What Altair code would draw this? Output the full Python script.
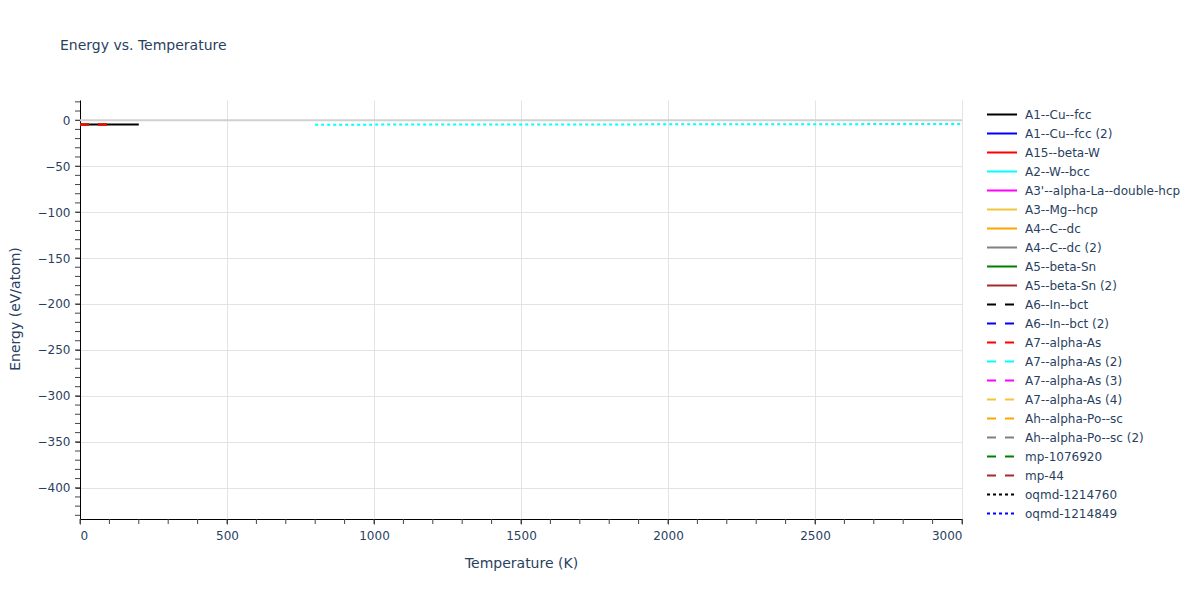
import altair as alt
import pandas as pd

# ---- data -----------------------------------------------------------------
names = [
    "A1--Cu--fcc", "A1--Cu--fcc (2)", "A15--beta-W", "A2--W--bcc",
    "A3'--alpha-La--double-hcp", "A3--Mg--hcp", "A4--C--dc", "A4--C--dc (2)",
    "A5--beta-Sn", "A5--beta-Sn (2)", "A6--In--bct", "A6--In--bct (2)",
    "A7--alpha-As", "A7--alpha-As (2)", "A7--alpha-As (3)", "A7--alpha-As (4)",
    "Ah--alpha-Po--sc", "Ah--alpha-Po--sc (2)", "mp-1076920", "mp-44",
    "oqmd-1214760", "oqmd-1214849",
]
colors = [
    "#000000", "#0000ff", "#ff0000", "#00ffff", "#ff00ff", "#f2c53d",
    "#ffa500", "#808080", "#008000", "#a52a2a",
    "#000000", "#0000ff", "#ff0000", "#00ffff", "#ff00ff", "#f2c53d",
    "#ffa500", "#808080", "#008000", "#a52a2a",
    "#000000", "#0000ff",
]
SOLID, DASH, DOT = [1, 0], [9, 9], [3, 3]
dashes = [SOLID] * 10 + [DASH] * 10 + [DOT] * 2

# series (temperature K, energy eV/atom)
cu_T = [0, 50, 100, 150, 200]
cu_E = [-4.62, -4.62, -4.61, -4.60, -4.59]

po2_T = [0, 20, 40, 60, 80, 100]
po2_E = [-4.55, -4.55, -4.55, -4.54, -4.54, -4.53]

as4_T = [0, 25, 50, 75, 100]
as4_E = [-4.56, -4.56, -4.55, -4.55, -4.54]

po_T = [0, 25, 50, 75, 100]
po_E = [-4.56, -4.56, -4.55, -4.55, -4.54]

as_T = [0, 25, 50, 75, 100]
as_E = [-4.55, -4.55, -4.55, -4.54, -4.54]

# extra dotted trace (not listed in the visible legend)
extra_T = [800, 1000, 1200, 1400, 1600, 1800, 2000, 2200, 2400, 2600, 2800, 3000]
extra_E = [-4.85, -4.80, -4.74, -4.68, -4.62, -4.56, -4.50, -4.43, -4.36, -4.28, -4.20, -4.12]

rows = []
for name, T, E in [
    ("Ah--alpha-Po--sc (2)", po2_T, po2_E),
    ("A7--alpha-As (4)", as4_T, as4_E),
    ("Ah--alpha-Po--sc", po_T, po_E),
    ("A1--Cu--fcc", cu_T, cu_E),
    ("A7--alpha-As", as_T, as_E),
]:
    for t, e in zip(T, E):
        rows.append({"series": name, "T": t, "E": e})
df = pd.DataFrame(rows)
extra = pd.DataFrame({"T": extra_T, "E": extra_E})

# axis decorations
y_minor = list(range(-430, 21, 10))
x_minor = list(range(0, 3001, 100))

FONT = "DejaVu Sans"
TXT = "#2a3f5f"
W, H = 882, 419
Y_DOM = [-434, 22]

xscale = alt.Scale(domain=[0, 3000], nice=False, zero=False)
yscale = alt.Scale(domain=Y_DOM, nice=False, zero=False)

xaxis = alt.Axis(
    values=[0, 500, 1000, 1500, 2000, 2500, 3000], format="d",
    title="Temperature (K)", titleX=W / 2, titleY=44, titleBaseline="middle",
    grid=True, gridColor="#e3e3e3", domainColor="#000000", tickColor="#444444",
    tickSize=5, labelPadding=6,
)
yaxis = alt.Axis(
    values=[0, -50, -100, -150, -200, -250, -300, -350, -400], format="d",
    title="Energy (eV/atom)", titleX=-65, titleY=H / 2 - 1, titleBaseline="middle",
    titleAngle=-90, grid=True, gridColor="#e3e3e3", domainColor="#000000",
    tickColor="#444444", tickSize=5, labelPadding=5,
)

zero = alt.Chart(pd.DataFrame({"z": [0]})).mark_rule(
    color="#d0d0d0", strokeWidth=2
).encode(y=alt.Y("z:Q", scale=yscale, axis=yaxis))

lines = alt.Chart(df).mark_line(strokeWidth=2).encode(
    x=alt.X("T:Q", scale=xscale, axis=xaxis),
    y=alt.Y("E:Q", scale=yscale, axis=yaxis),
    color=alt.Color(
        "series:N", scale=alt.Scale(domain=names, range=colors),
        legend=alt.Legend(
            title=None, orient="none", legendX=906, legendY=5,
            symbolType="stroke", symbolSize=900, symbolStrokeWidth=2,
            labelFont=FONT, labelFontSize=12, labelColor=TXT, labelOffset=7,
            clipHeight=19, rowPadding=0, padding=0, labelLimit=300,
        ),
    ),
    strokeDash=alt.StrokeDash(
        "series:N", scale=alt.Scale(domain=names, range=dashes), legend=None
    ),
    order=alt.Order("T:Q"),
)

extra_line = alt.Chart(extra).mark_line(
    strokeWidth=2, color="#00ffff", strokeDash=DOT
).encode(x=alt.X("T:Q", scale=xscale), y=alt.Y("E:Q", scale=yscale))

yticks = alt.Chart(pd.DataFrame({"v": y_minor})).mark_rule(
    color="#444444", strokeWidth=1
).encode(x=alt.value(-5), x2=alt.value(0), y=alt.Y("v:Q", scale=yscale))

xticks = alt.Chart(pd.DataFrame({"v": x_minor})).mark_rule(
    color="#444444", strokeWidth=1
).encode(y=alt.value(H), y2=alt.value(H + 5), x=alt.X("v:Q", scale=xscale))

chart = alt.layer(zero, yticks, xticks, lines, extra_line).properties(
    width=W, height=H,
    title=alt.TitleParams(
        "Energy vs. Temperature", anchor="start", frame="group", dx=-20, offset=47,
        font=FONT, fontSize=14, fontWeight="normal", color=TXT,
    ),
    autosize=alt.AutoSizeParams(type="none"),
    padding={"left": 72, "top": 92, "right": 226, "bottom": 60},
).configure_axis(
    labelFont=FONT, labelFontSize=12, labelColor=TXT,
    titleFont=FONT, titleFontSize=14, titleColor=TXT, titleFontWeight="normal",
).configure_view(stroke=None)

chart.save("out.html", embed_options={"renderer": "svg", "actions": False})
